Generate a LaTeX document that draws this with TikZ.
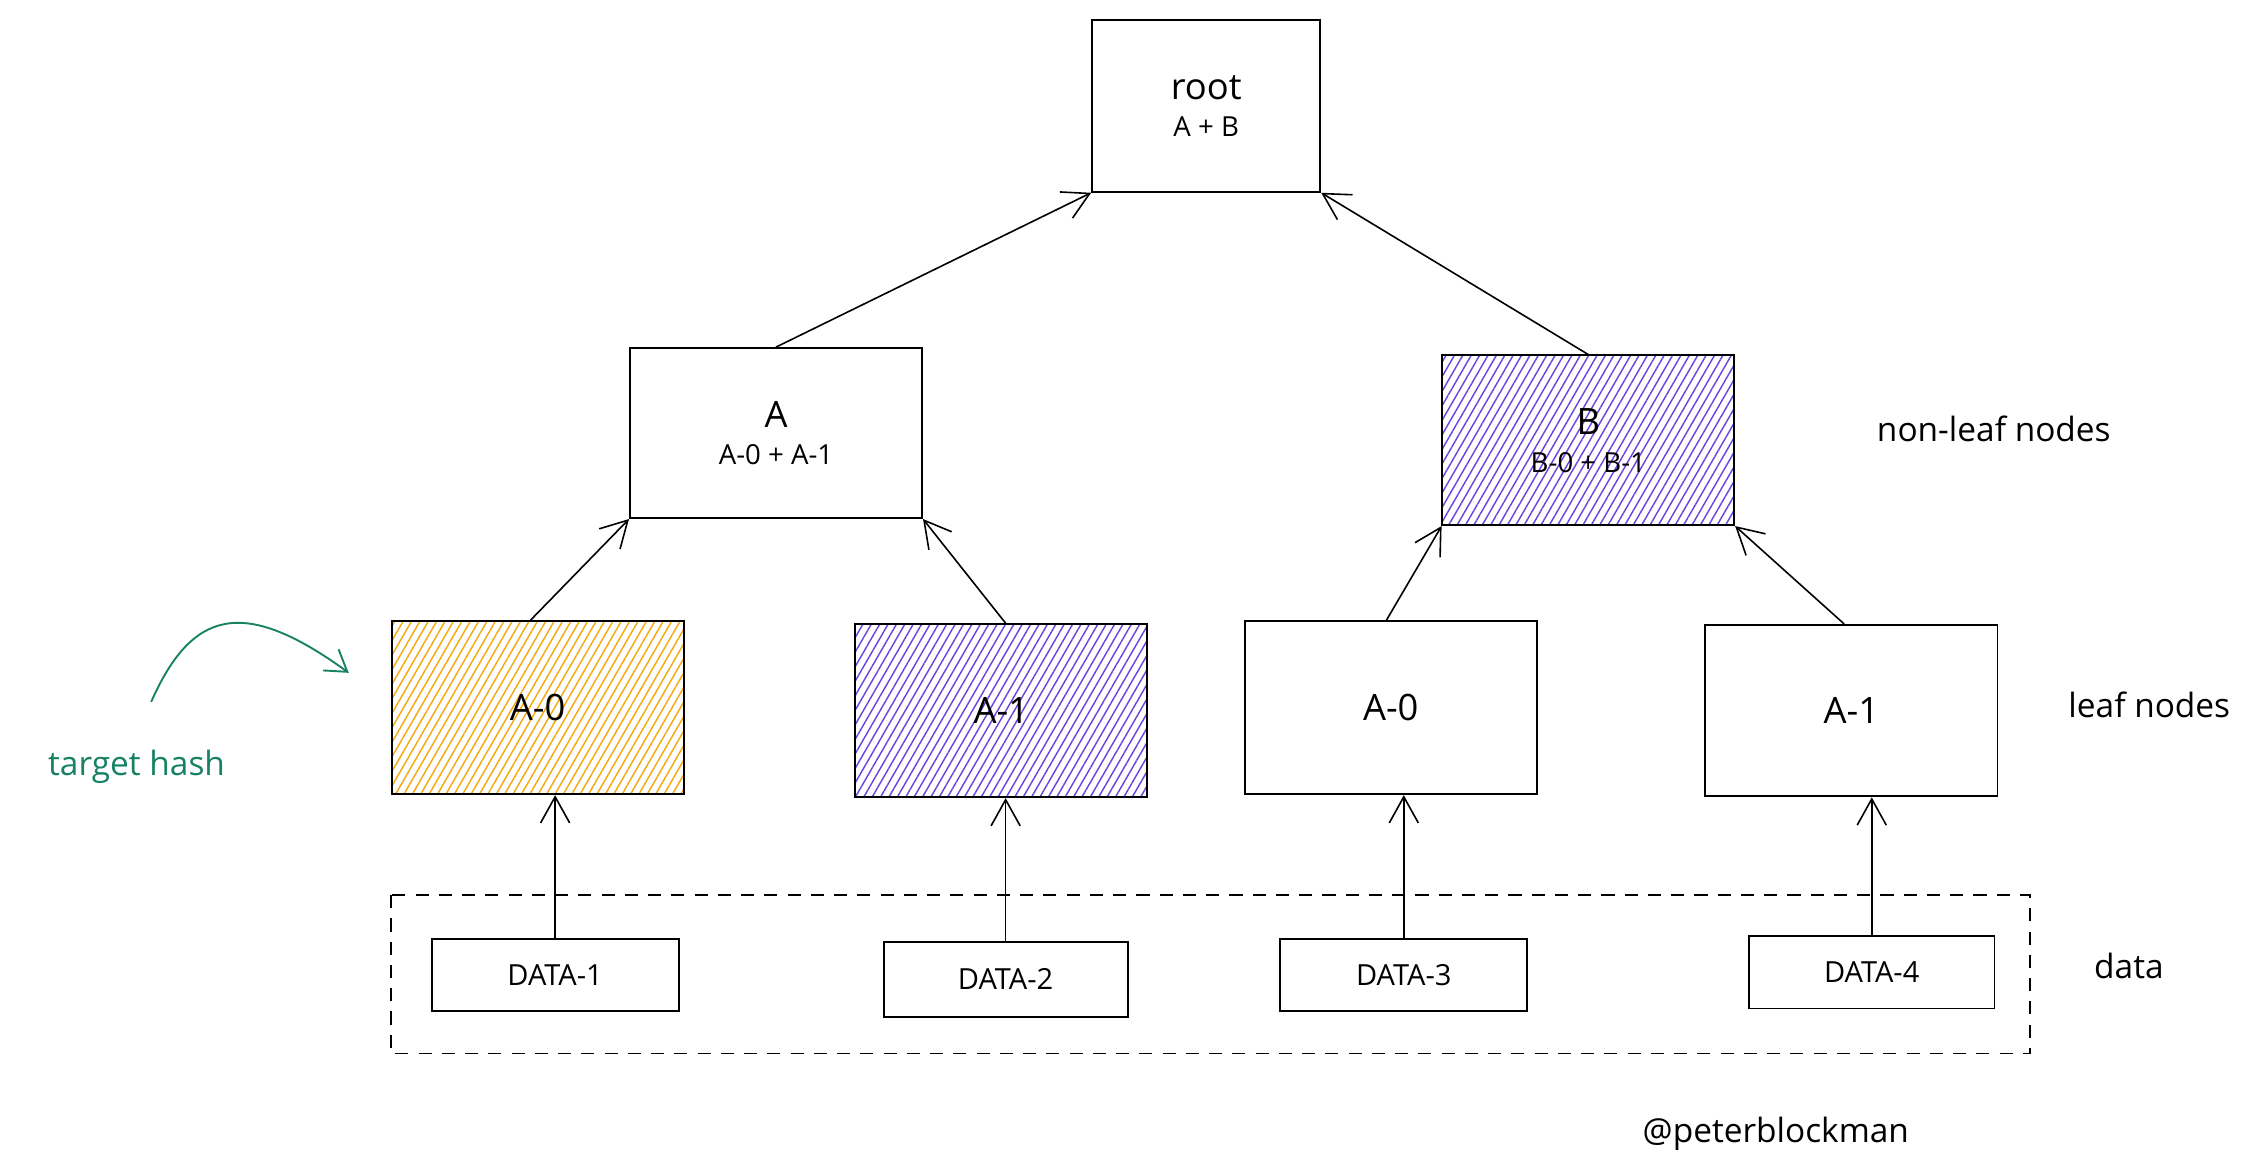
\documentclass[tikz,border=0pt]{standalone}
\usepackage{fontspec}
\setmainfont{Open Sans}
\usetikzlibrary{arrows.meta,patterns.meta}
\definecolor{org}{HTML}{F5A910}
\definecolor{pur}{HTML}{6A45E0}
\definecolor{grn}{HTML}{168263}
\begin{document}
\begin{tikzpicture}[x=1pt,y=-1pt,
 box/.style={draw=black,line width=1.3pt,minimum width=201pt,minimum height=117pt,align=center,font=\fontsize{25}{28}\selectfont},
 dbox/.style={draw=black,line width=1.3pt,minimum width=170pt,minimum height=50pt,font=\fontsize{20}{22}\selectfont},
 arr/.style={line width=1.1pt,-{Straight Barb[length=18pt,width=20pt]}},
 lbl/.style={font=\fontsize{23}{26}\selectfont},
 hp/.style={pattern={Lines[angle=60,distance=5pt,line width=1pt]},pattern color=#1}]
\useasboundingbox (3,0) rectangle (1563,808);
\node[box,minimum width=157pt,minimum height=118pt] (root) at (833,73) {root\\[-2pt]{\fontsize{19}{22}\selectfont A + B}};
\node[box] (A) at (537,298) {A\\[-2pt]{\fontsize{19}{22}\selectfont A-0 + A-1}};
\node[box,hp=pur] (B) at (1096,303) {B\\[-2pt]{\fontsize{19}{22}\selectfont B-0 + B-1}};
\node[box,hp=org,minimum height=119pt] (L1) at (373,487) {A-0};
\node[box,hp=pur,minimum height=119pt] (L2) at (692,489) {A-1};
\node[box,minimum height=119pt] (L3) at (960,487) {A-0};
\node[box,minimum height=118pt] (L4) at (1277,489) {A-1};
\node[dbox] (D1) at (385,671) {DATA-1};
\node[dbox,minimum width=168pt,minimum height=52pt] (D2) at (695,674) {DATA-2};
\node[dbox] (D3) at (969,671) {DATA-3};
\node[dbox,minimum width=169pt] (D4) at (1291,669) {DATA-4};
\draw[line width=1.2pt,dash pattern=on 9pt off 7pt] (272,616) rectangle (1400,725);
\draw[arr] (A.north) -- (root.south west);
\draw[arr] (B.north) -- (root.south east);
\draw[arr] ([xshift=-5pt]L1.north) -- (A.south west);
\draw[arr] ([xshift=3pt]L2.north) -- (A.south east);
\draw[arr] ([xshift=-3pt]L3.north) -- (B.south west);
\draw[arr] ([xshift=-5pt]L4.north) -- (B.south east);
\draw[arr] (D1.north) -- (D1.north |- L1.south);
\draw[arr] (D2.north) -- (D2.north |- L2.south);
\draw[arr] (D3.north) -- (D3.north |- L3.south);
\draw[arr] (D4.north) -- (D4.north |- L4.south);
\node[lbl] (nl) at (1375,295) {non-leaf nodes};
\node[lbl] (ln) at (1482,485) {leaf nodes};
\node[lbl] (dt) at (1468,665) {data};
\node[lbl] (pb) at (1225,780) {@peterblockman};
\node[lbl,text=grn] (th) at (97,528) {target hash};
\coordinate (c0) at (107,483);
\coordinate (c1) at (243,463);
\draw[grn,line width=1.3pt,-{Straight Barb[length=14pt,width=18pt]}] (c0) .. controls (135,420) and (170,410) .. (c1);
\end{tikzpicture}
\end{document}
